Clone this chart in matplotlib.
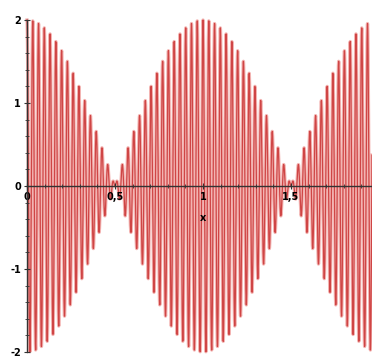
import numpy as np
import matplotlib
matplotlib.use("Agg")
import matplotlib.pyplot as plt
from matplotlib.ticker import MultipleLocator, FixedLocator

# beat signal cos(2*pi*f1*x) + cos(2*pi*f2*x)
f1 = 30.0
f2 = 31.0
x_min, x_max = 0.0, 1.96
xticks = [0, 0.5, 1, 1.5]
xtick_labels = ["0", "0,5", "1", "1,5"]
yticks = [-2, -1, 0, 1, 2]
ytick_labels = ["-2", "-1", "0", "1", "2"]

x = np.linspace(x_min, x_max, 6000)
y = np.cos(2 * np.pi * f1 * x) + np.cos(2 * np.pi * f2 * x)

fig = plt.figure(figsize=(3.72, 3.58), dpi=100)
ax = fig.add_axes([27 / 372, 6 / 358, 345 / 372, 332 / 358])
ax.set_axisbelow(False)

# soft pink halo under a thin red curve (blurred look of the original)
ax.plot(x, y, color="#f3b4b2", linewidth=2.4, clip_on=False, zorder=1)
ax.plot(x, y, color="#cf4545", linewidth=0.9, clip_on=False, zorder=1.2)

ax.set_xlim(x_min, x_max)
ax.set_ylim(-2, 2)

ax.spines["left"].set_position(("data", 0))
ax.spines["bottom"].set_position(("data", 0))
ax.spines["top"].set_visible(False)
ax.spines["right"].set_visible(False)
for s in ("left", "bottom"):
    ax.spines[s].set_color("#333333")
    ax.spines[s].set_linewidth(1.0)
    ax.spines[s].set_zorder(3)

ax.xaxis.set_major_locator(FixedLocator(xticks))
ax.set_xticklabels(xtick_labels)
ax.xaxis.set_minor_locator(MultipleLocator(0.1))
ax.yaxis.set_major_locator(FixedLocator(yticks))
ax.set_yticklabels(ytick_labels)
ax.yaxis.set_minor_locator(MultipleLocator(0.2))

ax.tick_params(axis="both", which="major", direction="inout", length=5,
               width=0.8, colors="#333333", labelsize=7, pad=2)
ax.tick_params(axis="both", which="minor", direction="inout", length=3,
               width=0.6, colors="#333333")
for lab in ax.get_xticklabels() + ax.get_yticklabels():
    lab.set_fontweight("bold")
    lab.set_color("black")

ax.text(1.0, -0.38, "x", ha="center", va="center", fontsize=7,
        fontweight="bold", zorder=4)

fig.savefig("out.png", dpi=100)
